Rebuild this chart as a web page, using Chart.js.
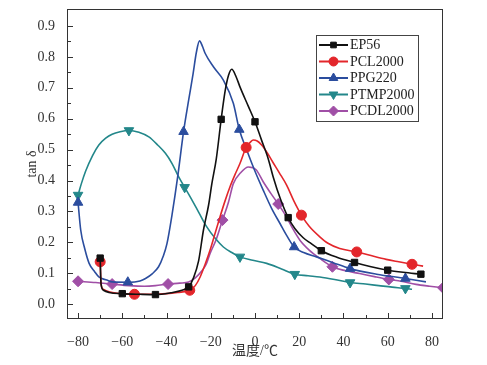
<!DOCTYPE html>
<html>
<head>
<meta charset="utf-8">
<script src="https://cdn.jsdelivr.net/npm/chart.js@4"></script>
<style>
  body { margin: 0; background: #fff; }
  canvas { display: block; }
</style>
</head>
<body>
<canvas id="tanChart" width="487" height="365"></canvas>
<script>
// tan delta vs temperature
const seriesNames = ["EP56", "PCL2000", "PPG220", "PTMP2000", "PCDL2000"];

const ep56T = [-70, -69.6, -68.5, -66, -60, -52, -45, -38, -33, -30, -27.8, -25.5, -23.3, -21, -19.5, -17.5, -15.3, -13.5, -12, -10.5, -8.5, -6.8, -3, 0, 3, 6, 8.3, 11.5, 15, 18, 21.8, 25, 30, 37, 45, 52, 60, 67, 75];
const ep56V = [0.149, 0.065, 0.045, 0.038, 0.034, 0.032, 0.031, 0.037, 0.045, 0.056, 0.085, 0.14, 0.24, 0.32, 0.39, 0.47, 0.598, 0.69, 0.74, 0.76, 0.735, 0.703, 0.64, 0.59, 0.53, 0.47, 0.41, 0.34, 0.28, 0.245, 0.215, 0.198, 0.173, 0.152, 0.135, 0.122, 0.11, 0.103, 0.097];
const ep56Marks = [-70, -60, -45, -30, -15.3, 0, 15, 30, 45, 60, 75];

const pclT = [-70, -69.6, -68.5, -66, -62, -54.5, -47, -40, -35, -29.5, -27, -24.8, -22.5, -20.3, -18, -15.8, -13.5, -11.3, -9, -6.8, -4, -2, -0.8, 1, 3, 5.5, 8, 11, 14.3, 17.5, 21, 24.5, 29.3, 33, 38.3, 46, 52, 59.3, 65, 71, 76];
const pclV = [0.137, 0.065, 0.048, 0.04, 0.035, 0.032, 0.032, 0.034, 0.038, 0.045, 0.06, 0.088, 0.13, 0.175, 0.23, 0.283, 0.335, 0.38, 0.42, 0.455, 0.507, 0.525, 0.531, 0.528, 0.515, 0.49, 0.46, 0.425, 0.385, 0.335, 0.288, 0.252, 0.218, 0.197, 0.18, 0.169, 0.158, 0.145, 0.137, 0.129, 0.123];
const pclMarks = [-70, -54.5, -29.5, -4, 21, 46, 71];

const ppgT = [-80, -78.8, -77, -75, -72.5, -70.6, -67, -64.5, -57.5, -52, -49.5, -46.5, -43.6, -41.5, -39.8, -37.5, -35, -32.3, -30, -28, -26.5, -25.1, -23.8, -22.5, -18.8, -14.3, -9.8, -7.1, -3.7, 0, 3.7, 7.5, 11.3, 14.5, 17.7, 22, 27.8, 35, 43, 55, 68, 77.3];
const ppgV = [0.329, 0.24, 0.18, 0.132, 0.105, 0.088, 0.078, 0.072, 0.071, 0.075, 0.083, 0.098, 0.121, 0.155, 0.196, 0.29, 0.41, 0.558, 0.66, 0.745, 0.815, 0.852, 0.835, 0.811, 0.768, 0.725, 0.65, 0.565, 0.498, 0.43, 0.369, 0.31, 0.261, 0.22, 0.185, 0.167, 0.153, 0.135, 0.115, 0.097, 0.083, 0.072];
const ppgMarks = [-80, -57.5, -32.3, -7.1, 17.7, 43, 68];

const ptmpT = [-80, -78.5, -76.6, -73.5, -70.6, -67.5, -64.6, -61, -57, -52.5, -48, -44, -40.5, -37.5, -34.5, -31.8, -29.3, -25.5, -21.8, -18, -14.3, -10.5, -6.8, -1, 5.3, 12, 18, 24, 29.3, 36, 43, 50, 56, 62, 68, 71];
const ptmpV = [0.353, 0.39, 0.43, 0.48, 0.515, 0.537, 0.55, 0.558, 0.562, 0.556, 0.541, 0.515, 0.488, 0.455, 0.412, 0.378, 0.347, 0.298, 0.25, 0.213, 0.185, 0.167, 0.153, 0.142, 0.132, 0.114, 0.097, 0.092, 0.088, 0.08, 0.07, 0.065, 0.06, 0.055, 0.051, 0.048];
const ptmpMarks = [-80, -57, -31.8, -6.8, 18, 43, 68];

const pcdlT = [-80, -72, -64.6, -57, -50, -45, -39.3, -34, -30, -27, -24, -22, -20.3, -17.5, -14.7, -12, -9.8, -6.5, -3, 0.5, 3.7, 7, 10.5, 14, 17, 20.3, 24.5, 29.3, 35, 41, 47.3, 54, 60.5, 66, 72.8, 79, 85];
const pcdlV = [0.074, 0.07, 0.065, 0.06, 0.058, 0.06, 0.065, 0.068, 0.072, 0.085, 0.108, 0.13, 0.164, 0.21, 0.272, 0.33, 0.39, 0.425, 0.444, 0.435, 0.396, 0.36, 0.324, 0.285, 0.245, 0.207, 0.175, 0.148, 0.121, 0.108, 0.099, 0.089, 0.08, 0.074, 0.064, 0.058, 0.053];
const pcdlMarks = [-80, -64.6, -39.3, -14.7, 10.5, 35, 60.5, 85];

const xTicks = [-80, -60, -40, -20, 0, 20, 40, 60, 80];
const yTicks = [0.0, 0.1, 0.2, 0.3, 0.4, 0.5, 0.6, 0.7, 0.8, 0.9];

const colors = ["#111111", "#e3262b", "#2b4d9e", "#23878a", "#a04fa6"];
const styles = ["rect", "circle", "triangle", "triangle", "rectRot"];
const rotations = [0, 0, 0, 180, 0];
const radii = [4.5, 5, 5.5, 5.5, 5.5];

const serifFont = "'Liberation Serif', 'Times New Roman', 'Noto Sans CJK SC', serif";

function makeSet(i, ts, vs, marks) {
  return {
    label: seriesNames[i],
    data: ts.map((t, k) => ({ x: t, y: vs[k] })),
    showLine: true,
    borderColor: colors[i],
    backgroundColor: colors[i],
    borderWidth: 1.6,
    cubicInterpolationMode: "monotone",
    pointStyle: styles[i],
    rotation: rotations[i],
    pointRadius: ts.map(t => marks.includes(t) ? radii[i] : 0),
    pointBorderWidth: 1,
  };
}

// frame, inward ticks and boxed legend like the original figure
const frameAndLegend = {
  id: "frameAndLegend",
  afterDraw(chart) {
    const ctx = chart.ctx;
    const a = chart.chartArea;
    const xs = chart.scales.x;
    const ys = chart.scales.y;
    ctx.save();
    ctx.strokeStyle = "#333";
    ctx.lineWidth = 1;
    ctx.strokeRect(a.left + 0.5, a.top + 0.5, a.right - a.left - 1, a.bottom - a.top - 1);

    ctx.beginPath();
    for (let v = -80; v <= 80; v += 10) {
      const px = Math.round(xs.getPixelForValue(v)) + 0.5;
      const len = v % 20 === 0 ? 6 : 4;
      ctx.moveTo(px, a.bottom);
      ctx.lineTo(px, a.bottom - len);
    }
    for (let k = 0; k <= 18; k++) {
      const py = Math.round(ys.getPixelForValue(k * 0.05)) + 0.5;
      const len = k % 2 === 0 ? 6 : 4;
      ctx.moveTo(a.left, py);
      ctx.lineTo(a.left + len, py);
    }
    ctx.stroke();

    // legend box
    const bx = 316, by = 35, bw = 102, bh = 86;
    ctx.fillStyle = "#fff";
    ctx.fillRect(bx, by, bw, bh);
    ctx.strokeStyle = "#444";
    ctx.strokeRect(bx + 0.5, by + 0.5, bw, bh);
    ctx.font = "14px " + serifFont;
    ctx.textBaseline = "middle";
    ctx.textAlign = "left";
    chart.data.datasets.forEach((ds, i) => {
      const y = by + 10 + i * 16.5;
      ctx.strokeStyle = colors[i];
      ctx.fillStyle = colors[i];
      ctx.lineWidth = 2;
      ctx.beginPath();
      ctx.moveTo(bx + 3, y);
      ctx.lineTo(bx + 32, y);
      ctx.stroke();
      ctx.lineWidth = 1;
      Chart.helpers.drawPoint(ctx, {
        pointStyle: styles[i], radius: radii[i] - 0.5, rotation: rotations[i], borderWidth: 1
      }, bx + 17.5, y);
      ctx.fillStyle = "#222";
      ctx.fillText(ds.label, bx + 34, y + 0.5);
    });
    ctx.restore();
  }
};

new Chart(document.getElementById("tanChart"), {
  type: "scatter",
  data: {
    datasets: [
      makeSet(0, ep56T, ep56V, ep56Marks),
      makeSet(1, pclT, pclV, pclMarks),
      makeSet(2, ppgT, ppgV, ppgMarks),
      makeSet(3, ptmpT, ptmpV, ptmpMarks),
      makeSet(4, pcdlT, pcdlV, pcdlMarks),
    ],
  },
  options: {
    responsive: false,
    devicePixelRatio: 1,
    animation: false,
    events: [],
    layout: { padding: { left: 0, top: 9, right: 44, bottom: 0 } },
    plugins: { legend: { display: false }, tooltip: { enabled: false } },
    scales: {
      x: {
        type: "linear",
        min: -85,
        max: 85,
        grid: { display: false },
        border: { display: false },
        afterBuildTicks: s => { s.ticks = xTicks.map(v => ({ value: v })); },
        afterFit: s => { s.height = 46; s.paddingLeft = 0; s.paddingRight = 0; },
        ticks: {
          padding: 7,
          color: "#333",
          font: { family: serifFont, size: 14 },
          callback: v => String(v).replace("-", "\u2212"),
        },
        title: {
          display: true,
          text: "温度/℃",
          color: "#333",
          font: { family: serifFont, size: 14 },
          padding: { top: 0, bottom: 5 },
        },
      },
      y: {
        min: -0.048,
        max: 0.955,
        grid: { display: false },
        border: { display: false },
        afterBuildTicks: s => { s.ticks = yTicks.map(v => ({ value: v })); },
        afterFit: s => { s.width = 67; s.paddingTop = 0; s.paddingBottom = 0; },
        ticks: {
          padding: 4,
          color: "#333",
          font: { family: serifFont, size: 14 },
          callback: v => v.toFixed(1),
        },
        title: {
          display: true,
          text: "tan δ",
          color: "#333",
          font: { family: serifFont, size: 14 },
          padding: { top: 24, bottom: 0 },
        },
      },
    },
  },
  plugins: [frameAndLegend],
});
</script>
</body>
</html>
